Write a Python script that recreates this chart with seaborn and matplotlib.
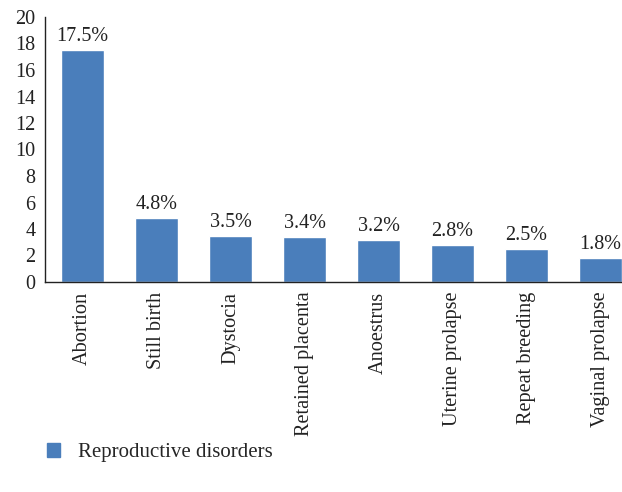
import matplotlib
matplotlib.use("Agg")
import matplotlib.pyplot as plt
import seaborn as sns
import pandas as pd
from matplotlib.patches import Patch

categories = ["Abortion", "Still birth", "Dystocia", "Retained placenta", "Anoestrus",
              "Uterine prolapse", "Repeat breeding", "Vaginal prolapse"]
values = [17.5, 4.8, 3.5, 3.4, 3.2, 2.8, 2.5, 1.8]
labels = ["17.5%", "4.8%", "3.5%", "3.4%", "3.2%", "2.8%", "2.5%", "1.8%"]
yticks = [0, 2, 4, 6, 8, 10, 12, 14, 16, 18, 20]
series_name = "Reproductive disorders"

sns.set_style("white")
plt.rcParams['font.family'] = ['Liberation Serif', 'DejaVu Serif']

df = pd.DataFrame({"cat": categories, "val": values})
color = "#4a7ebb"
txt = "#222222"

fig = plt.figure(figsize=(6.22, 4.92), dpi=100)
ax = fig.add_axes([45 / 622, 1 - 282 / 492, 577 / 622, 265 / 492])
sns.barplot(data=df, x="cat", y="val", color=color, width=0.58, saturation=1, ax=ax)

for i, (v, lab) in enumerate(zip(values, labels)):
    ax.text(i, v + 0.3, lab, ha="center", va="bottom", fontsize=14.5, color=txt)

ax.set_ylim(0, 20)
ax.set_yticks(yticks)
ax.set_yticklabels([str(t) for t in yticks], fontsize=14.5, color=txt)
ax.set_xticks(range(len(categories)))
ax.set_xticklabels(categories, rotation=90, fontsize=14.6, color=txt)
ax.set_xlim(-0.507, 7.29)
ax.set_xlabel("")
ax.set_ylabel("")
ax.tick_params(axis="y", length=0, pad=7)
ax.tick_params(axis="x", length=0, pad=7)
for s in ["top", "right"]:
    ax.spines[s].set_visible(False)
for s in ["left", "bottom"]:
    ax.spines[s].set_color(txt)
    ax.spines[s].set_linewidth(1.0)

handle = Patch(facecolor=color, edgecolor=color)
fig.legend([handle], [series_name], loc="center left", bbox_to_anchor=(47 / 622, 0.08),
           frameon=False, fontsize=15, handlelength=0.62, handleheight=0.62,
           handletextpad=0.85, borderpad=0, borderaxespad=0)

fig.savefig("out.png", dpi=100)
